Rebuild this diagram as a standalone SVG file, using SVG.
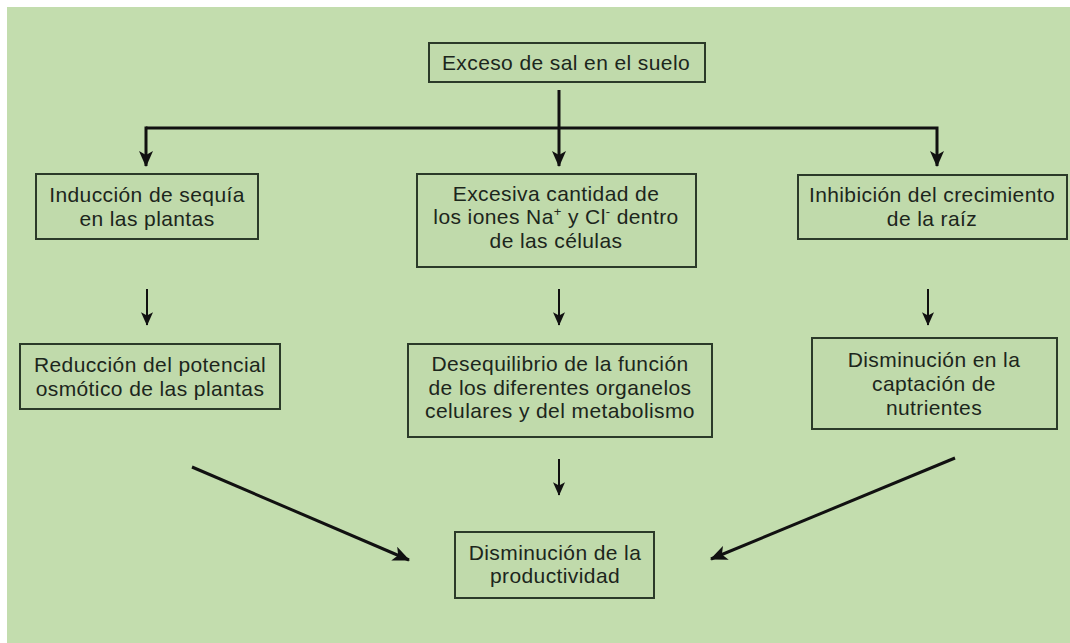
<svg xmlns="http://www.w3.org/2000/svg" width="1070" height="643" viewBox="0 0 1070 643">
<style>
.box{fill:#c0daab;stroke:#2b3a29;stroke-width:2}
.t{font-family:"Liberation Sans",Arial,sans-serif;font-size:21px;letter-spacing:0.4px;fill:#1c261c;text-anchor:middle}
.c{fill:none;stroke:#111;stroke-width:3}
.s{fill:none;stroke:#111;stroke-width:2}
</style>
<defs>
<marker id="ah" markerUnits="userSpaceOnUse" viewBox="0 0 16 14" markerWidth="16" markerHeight="14" refX="15" refY="7" orient="auto">
<path d="M0,0 L16,7 L0,14 L4,7 Z" fill="#111"/>
</marker>
<marker id="ad" markerUnits="userSpaceOnUse" viewBox="0 0 16 14" markerWidth="20" markerHeight="15" refX="15" refY="7" orient="auto">
<path d="M0,0 L16,7 L0,14 L4,7 Z" fill="#111"/>
</marker>
<marker id="as" markerUnits="userSpaceOnUse" viewBox="0 0 16 14" markerWidth="15" markerHeight="12" refX="15" refY="7" orient="auto">
<path d="M0,0 L16,7 L0,14 L4,7 Z" fill="#111"/>
</marker>
</defs>
<rect x="7" y="7" width="1063" height="636" fill="#c3ddae"/>
<g id="connectors">
<path class="c" d="M559,90 V166" marker-end="url(#ah)"/>
<path class="c" d="M146,128 H937 V166" marker-end="url(#ah)"/>
<path class="c" d="M146,126.5 V166" marker-end="url(#ah)"/>
<path class="s" d="M147,289 V325" marker-end="url(#as)"/>
<path class="s" d="M559,289 V325" marker-end="url(#as)"/>
<path class="s" d="M928,289 V325" marker-end="url(#as)"/>
<path class="s" d="M559,459 V495" marker-end="url(#as)"/>
<path class="c" d="M192,467 L409,560" marker-end="url(#ad)"/>
<path class="c" d="M955,458 L711,559" marker-end="url(#ad)"/>
</g>
<g id="n1"><rect class="box" x="429" y="43" width="276" height="39"/><text class="t" x="566" y="70">Exceso de sal en el suelo</text></g>
<g id="n2"><rect class="box" x="36" y="174" width="222" height="65"/><text class="t" x="147" y="202">Inducción de sequía</text><text class="t" x="147" y="225.5">en las plantas</text></g>
<g id="n3"><rect class="box" x="417" y="174" width="279" height="93"/><text class="t" x="556" y="200.5">Excesiva cantidad de</text><text class="t" x="556" y="224">los iones Na<tspan font-size="13" dy="-8">+</tspan><tspan dy="8"> y Cl</tspan><tspan font-size="13" dy="-8">-</tspan><tspan dy="8"> dentro</tspan></text><text class="t" x="556" y="247.5">de las células</text></g>
<g id="n4"><rect class="box" x="798" y="175" width="269" height="64"/><text class="t" x="932" y="202">Inhibición del crecimiento</text><text class="t" x="932" y="225.5">de la raíz</text></g>
<g id="n5"><rect class="box" x="20" y="344" width="260" height="65"/><text class="t" x="150" y="372">Reducción del potencial</text><text class="t" x="150" y="395.5">osmótico de las plantas</text></g>
<g id="n6"><rect class="box" x="408" y="344" width="304" height="93"/><text class="t" x="560" y="371">Desequilibrio de la función</text><text class="t" x="560" y="394.5">de los diferentes organelos</text><text class="t" x="560" y="418">celulares y del metabolismo</text></g>
<g id="n7"><rect class="box" x="812" y="338" width="245" height="91"/><text class="t" x="934" y="367">Disminución en la</text><text class="t" x="934" y="391">captación de</text><text class="t" x="934" y="415">nutrientes</text></g>
<g id="n8"><rect class="box" x="455" y="532" width="199" height="66"/><text class="t" x="555" y="559.5">Disminución de la</text><text class="t" x="555" y="583">productividad</text></g>
</svg>
